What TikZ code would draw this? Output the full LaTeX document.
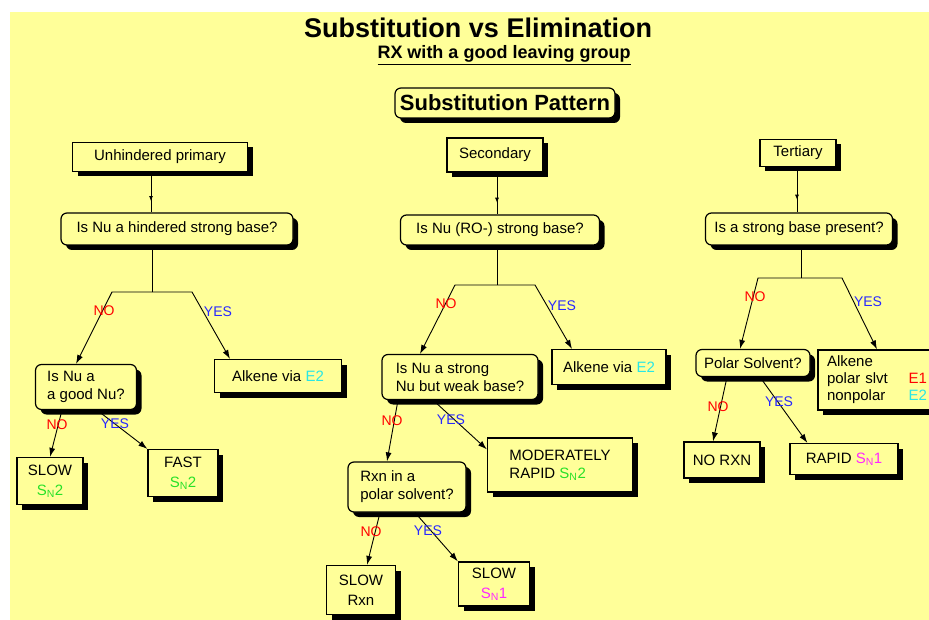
\documentclass[tikz,border=0pt]{standalone}
\usepackage{fontspec}
\setmainfont{Liberation Sans}
\usepackage{xcolor}
\usepackage{tikz}
\usetikzlibrary{arrows.meta}
\usetikzlibrary{shadows}
\usetikzlibrary{decorations.markings}
\usetikzlibrary{calc}

\definecolor{paper}{RGB}{255,255,153}
\definecolor{nored}{RGB}{255,0,0}
\definecolor{yesblue}{RGB}{40,40,255}
\definecolor{sntwo}{RGB}{40,225,40}
\definecolor{snone}{RGB}{255,40,255}
\definecolor{etwo}{RGB}{40,230,230}

\newcommand{\SNtwo}{\textcolor{sntwo}{S\textsubscript{N}2}}
\newcommand{\SNone}{\textcolor{snone}{S\textsubscript{N}1}}
\newcommand{\Etwo}{\textcolor{etwo}{E2}}

\begin{document}
\begin{tikzpicture}[
  x=1pt, y=-1pt,
  box/.style={
    rectangle,
    draw=black,
    line width=1.2pt,
    fill=paper,
    drop shadow={shadow xshift=5pt, shadow yshift=-5pt, opacity=1, fill=black},
    inner sep=2pt,
    align=center,
    font=\fontsize{15}{18}\selectfont
  },
  ask/.style={box, rounded corners=6pt},
  conn/.style={line width=0.9pt},
  arr/.style={conn, -{Latex[length=9pt,width=6pt]}},
  midtip/.style={conn, postaction={decorate},
    decoration={markings, mark=at position 0.72 with {\arrow{Latex[length=5pt,width=4pt]}}}},
  no/.style={font=\fontsize{14}{16}\selectfont, text=nored},
  yes/.style={font=\fontsize{14}{16}\selectfont, text=yesblue}
]
\fill[white] (0,0) rectangle (929,620);
\fill[paper] (10,12) rectangle (929,620);
\useasboundingbox (0,0) rectangle (929,620);
% headings
\node[font=\fontsize{27}{30}\selectfont\bfseries] (title) at (478,28) {Substitution vs Elimination};
\node[font=\fontsize{18}{20}\selectfont\bfseries] (subtitle) at (504,55) {\underline{RX with a good leaving group}};
\node[ask, font=\fontsize{22}{24}\selectfont\bfseries, minimum width=220, minimum height=30] (pattern) at (505,103) {Substitution Pattern};
% primary
\node[box, minimum width=175, minimum height=29] (prim) at (160,157) {Unhindered primary};
\node[ask, minimum width=232, minimum height=32] (qprim) at (177,229) {Is Nu a hindered strong base?};
\node[ask, minimum width=101, minimum height=45, align=left] (goodnu) at (86,387) {Is Nu a\\a good Nu?};
\node[box, minimum width=127, minimum height=33] (alk1) at (278,376) {Alkene via \Etwo};
\node[box, minimum width=66, minimum height=47, font=\fontsize{15}{20}\selectfont] (slow1) at (50,481) {SLOW\\\SNtwo};
\node[box, minimum width=70, minimum height=47, font=\fontsize{15}{20}\selectfont] (fast1) at (183,473) {FAST\\\SNtwo};
\draw[midtip] ([xshift=-9pt]prim.south) -- ([xshift=-9pt]prim.south |- qprim.north);
\coordinate (fork1) at (152,292);
\draw[conn] (qprim.south -| fork1) -- (fork1);
\draw[arr] (fork1) -- ++(-40,0) -- ([xshift=-10pt]goodnu.north);
\draw[arr] (fork1) -- ++(40,0) -- ([xshift=-48pt]alk1.north);
\node[no] (no1) at (104,311) {NO};
\node[yes] (yes1) at (218,312) {YES};
\draw[arr] ([xshift=-24pt]goodnu.south) -- (slow1.north);
\draw[arr] ([xshift=11pt]goodnu.south) -- (fast1.north west);
\node[no] (no2) at (57,425) {NO};
\node[yes] (yes2) at (115,424) {YES};
% secondary
\node[box, minimum width=96, minimum height=34] (sec) at (495,155) {Secondary};
\node[ask, minimum width=199, minimum height=30] (qsec) at (500,230) {Is Nu (RO-) strong base?};
\node[ask, minimum width=156, minimum height=45, align=left] (strnu) at (460,377) {Is Nu a strong\\Nu but weak base?};
\node[box, minimum width=114, minimum height=35] (alk2) at (609,367) {Alkene via \Etwo};
\node[box, minimum width=145, minimum height=54, align=left] (mod2) at (560,465) {MODERATELY\\RAPID \SNtwo};
\node[ask, minimum width=118, minimum height=50, align=left] (polar2) at (407,487) {Rxn in a\\polar solvent?};
\node[box, minimum width=69, minimum height=49, font=\fontsize{15}{20}\selectfont] (slowrxn) at (361,590) {SLOW\\Rxn};
\node[box, minimum width=71, minimum height=44, font=\fontsize{15}{20}\selectfont] (slow2) at (494,584) {SLOW\\\SNone};
\draw[midtip] ([xshift=2pt]sec.south) -- ([xshift=2pt]sec.south |- qsec.north);
\coordinate (fork2) at (497,285);
\draw[conn] (qsec.south -| fork2) -- (fork2);
\draw[arr] (fork2) -- ++(-42,0) -- ([xshift=-40pt]strnu.north);
\draw[arr] (fork2) -- ++(38,0) -- ([xshift=-37pt]alk2.north);
\node[no] (no3) at (446,304) {NO};
\node[yes] (yes3) at (562,306) {YES};
\draw[arr] ([xshift=-62pt]strnu.south) -- ([xshift=-20pt]polar2.north);
\draw[arr] ([xshift=-27pt]strnu.south) -- ([yshift=-12pt]mod2.north west);
\node[no] (no4) at (392,421) {NO};
\node[yes] (yes4) at (451,420) {YES};
\draw[arr] ([xshift=-27pt]polar2.south) -- ([xshift=6pt]slowrxn.north);
\draw[arr] ([xshift=8pt]polar2.south) -- (slow2.north west);
\node[no] (no5) at (371,532) {NO};
\node[yes] (yes5) at (428,531) {YES};
% tertiary
\node[box, minimum width=76, minimum height=27] (tert) at (798,153) {Tertiary};
\node[ask, minimum width=187, minimum height=32] (qtert) at (799,229) {Is a strong base present?};
\node[ask, minimum width=114, minimum height=27] (polar3) at (753,363) {Polar Solvent?};
\node[box, text width=100, minimum width=118, minimum height=60, align=left, font=\fontsize{15}{17}\selectfont] (alk3) at (877,380) {Alkene\\polar slvt\hfill\textcolor{nored}{E1}\\nonpolar\hfill\Etwo};
\node[box, minimum width=76, minimum height=36] (norxn) at (722,460) {NO RXN};
\node[box, minimum width=108, minimum height=31] (rapid3) at (844,459) {RAPID \SNone};
\draw[midtip] ([xshift=-1pt]tert.south) -- ([xshift=-1pt]tert.south |- qtert.north);
\coordinate (fork3) at (801,278);
\draw[conn] (qtert.south -| fork3) -- (fork3);
\draw[arr] (fork3) -- ++(-43,0) -- ([xshift=-13pt]polar3.north);
\draw[arr] (fork3) -- ++(41,0) -- (alk3.north);
\node[no] (no6) at (755,297) {NO};
\node[yes] (yes6) at (868,302) {YES};
\draw[arr] ([xshift=-26pt]polar3.south) -- ([xshift=-9pt]norxn.north);
\draw[arr] ([xshift=7pt]polar3.south) -- ([xshift=18pt]rapid3.north west);
\node[no] (no7) at (718,407) {NO};
\node[yes] (yes7) at (779,402) {YES};
\end{tikzpicture}
\end{document}
